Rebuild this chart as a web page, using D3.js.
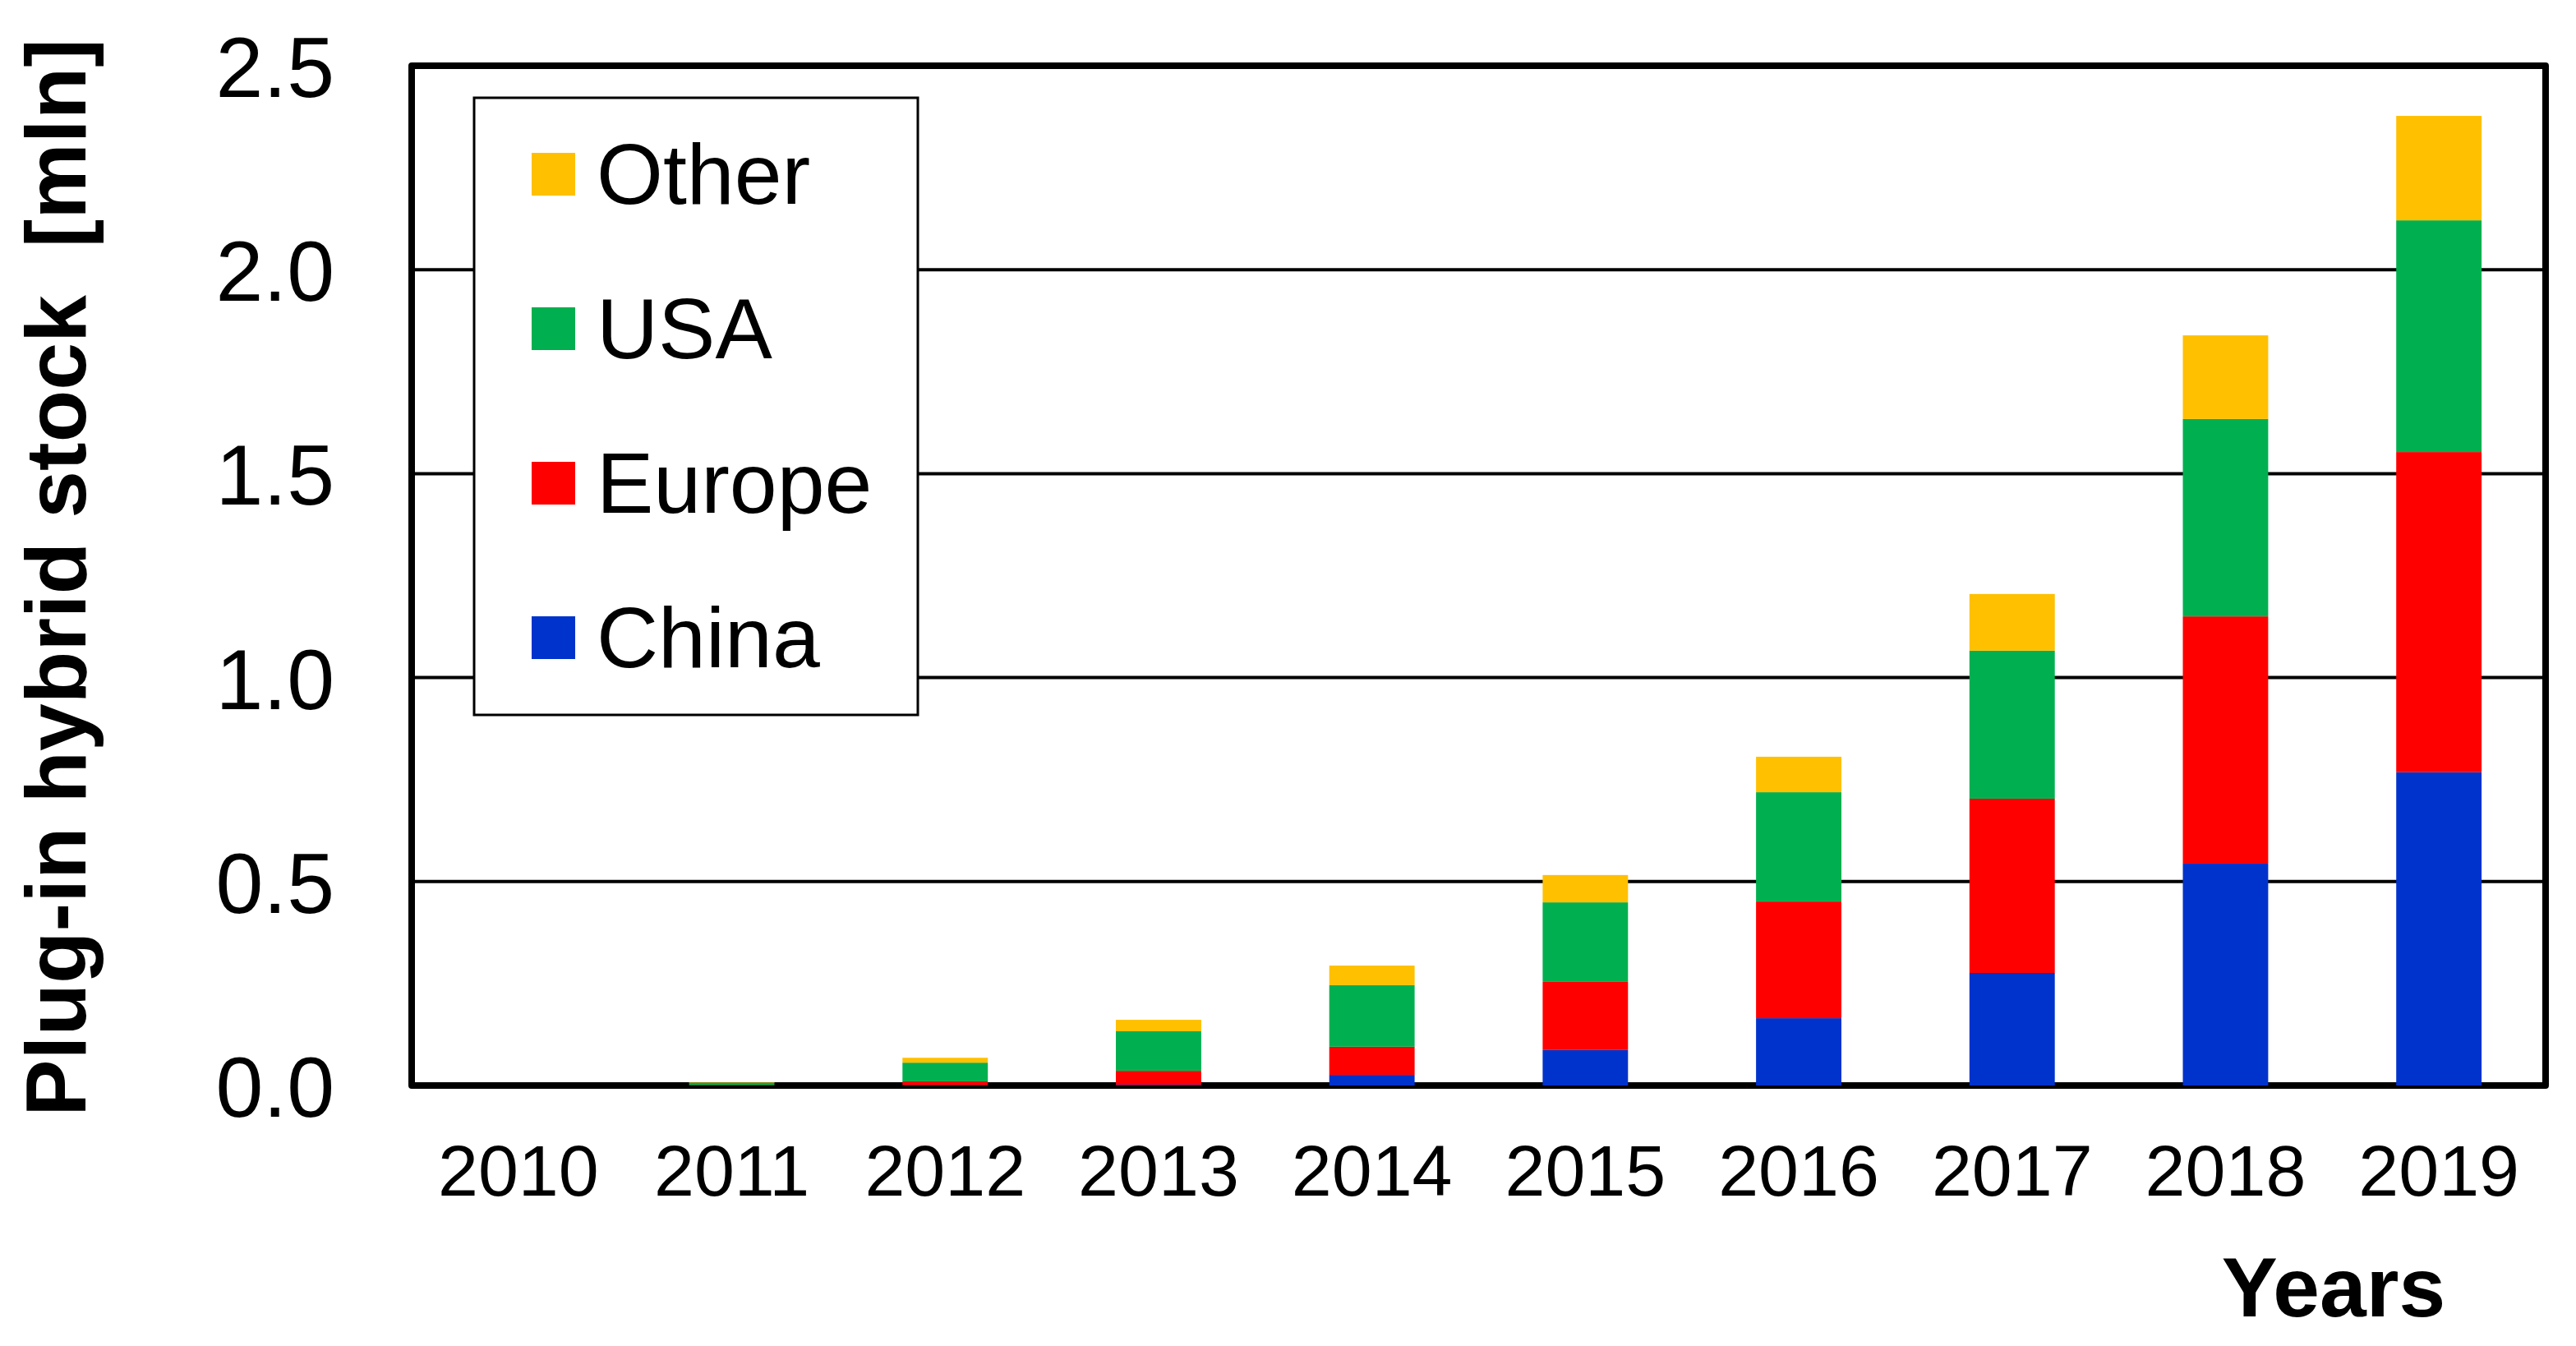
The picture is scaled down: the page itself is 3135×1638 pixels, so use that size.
<!DOCTYPE html>
<html>
<head>
<meta charset="utf-8">
<script src="https://cdn.jsdelivr.net/npm/d3@7"></script>
<style>
  html, body { margin: 0; padding: 0; background: #fff; }
  svg { display: block; font-family: "Liberation Sans", Arial, sans-serif; }
</style>
</head>
<body>
<svg id="chart" width="3135" height="1638"></svg>
<script>
// ---- data ----
const years = ["2010","2011","2012","2013","2014","2015","2016","2017","2018","2019"];
const china  = [0, 0,     0.001, 0.002, 0.026, 0.087, 0.165, 0.276, 0.544, 0.768];
const europe = [0, 0.001, 0.009, 0.034, 0.069, 0.167, 0.286, 0.427, 0.606, 0.785];
const usa    = [0, 0.006, 0.046, 0.097, 0.151, 0.195, 0.268, 0.363, 0.484, 0.568];
const other  = [0, 0.001, 0.012, 0.028, 0.048, 0.067, 0.087, 0.139, 0.205, 0.256];
const seriesNames = ["China", "Europe", "USA", "Other"];
const seriesColors = ["#0033CC", "#FF0000", "#00B050", "#FFC000"];
const yTicks = [0, 0.5, 1.0, 1.5, 2.0, 2.5];
const yTitle = "Plug-in hybrid stock  [mln]";
const xTitle = "Years";

const table = years.map((y, i) => ({year: y, China: china[i], Europe: europe[i], USA: usa[i], Other: other[i]}));

// ---- layout ----
const L = 501, R = 3098, T = 80, B = 1321;
const svg = d3.select("#chart");

const x = d3.scaleBand().domain(years).range([L, R]).paddingInner(0.6).paddingOuter(0.3);
const y = d3.scaleLinear().domain([0, 2.5]).range([B, T]);
const color = d3.scaleOrdinal().domain(seriesNames).range(seriesColors);

// gridlines
svg.append("g").selectAll("line")
  .data(yTicks.filter(t => t > 0 && t < 2.5))
  .join("line")
  .attr("x1", L).attr("x2", R)
  .attr("y1", d => y(d)).attr("y2", d => y(d))
  .attr("stroke", "#000").attr("stroke-width", 4);

// frame
svg.append("rect")
  .attr("x", L).attr("y", y(2.5))
  .attr("width", R - L).attr("height", y(0) - y(2.5))
  .attr("fill", "none").attr("stroke", "#000").attr("stroke-width", 8)
  .attr("stroke-linejoin", "round");

// stacked bars
const stacked = d3.stack().keys(seriesNames)(table);
svg.append("g").selectAll("g")
  .data(stacked)
  .join("g")
  .attr("fill", d => color(d.key))
  .selectAll("rect")
  .data(d => d)
  .join("rect")
  .attr("x", d => x(d.data.year))
  .attr("width", x.bandwidth())
  .attr("y", d => y(d[1]))
  .attr("height", d => Math.max(0, y(d[0]) - y(d[1])));

// y tick labels
const yAxis = d3.axisLeft(y).tickValues(yTicks).tickFormat(d3.format(".1f")).tickSize(0).tickPadding(94);
const gy = svg.append("g").attr("transform", `translate(${L},0)`).call(yAxis);
gy.select(".domain").remove();
gy.selectAll("text")
  .attr("font-family", "'Liberation Sans', Arial, sans-serif")
  .attr("font-size", 104).attr("fill", "#000")
  .attr("dy", "0.36em");

// x tick labels
const xAxis = d3.axisBottom(x).tickSize(0).tickPadding(0);
const gx = svg.append("g").attr("transform", `translate(0,${B})`).call(xAxis);
gx.select(".domain").remove();
gx.selectAll("text")
  .attr("font-family", "'Liberation Sans', Arial, sans-serif")
  .attr("font-size", 88).attr("fill", "#000")
  .attr("dy", null).attr("y", 134);

// axis titles
svg.append("text")
  .attr("transform", "translate(104,703) rotate(-90)")
  .attr("text-anchor", "middle")
  .attr("font-size", 104).attr("font-weight", "bold")
  .style("white-space", "pre")
  .text(yTitle);

svg.append("text")
  .attr("x", 2840).attr("y", 1602)
  .attr("text-anchor", "middle")
  .attr("font-size", 102).attr("font-weight", "bold")
  .text(xTitle);

// legend
const lg = svg.append("g");
lg.append("rect")
  .attr("x", 577).attr("y", 119).attr("width", 540).attr("height", 751)
  .attr("fill", "#fff").attr("stroke", "#000").attr("stroke-width", 3);
const legendOrder = ["Other", "USA", "Europe", "China"];
const rows = lg.selectAll("g.row").data(legendOrder).join("g")
  .attr("transform", (d, i) => `translate(0,${212 + i * 188})`);
rows.append("rect")
  .attr("x", 647).attr("y", -26).attr("width", 53).attr("height", 52)
  .attr("fill", d => color(d));
rows.append("text")
  .attr("x", 726).attr("y", 36)
  .attr("font-size", 104)
  .text(d => d);
</script>
</body>
</html>
